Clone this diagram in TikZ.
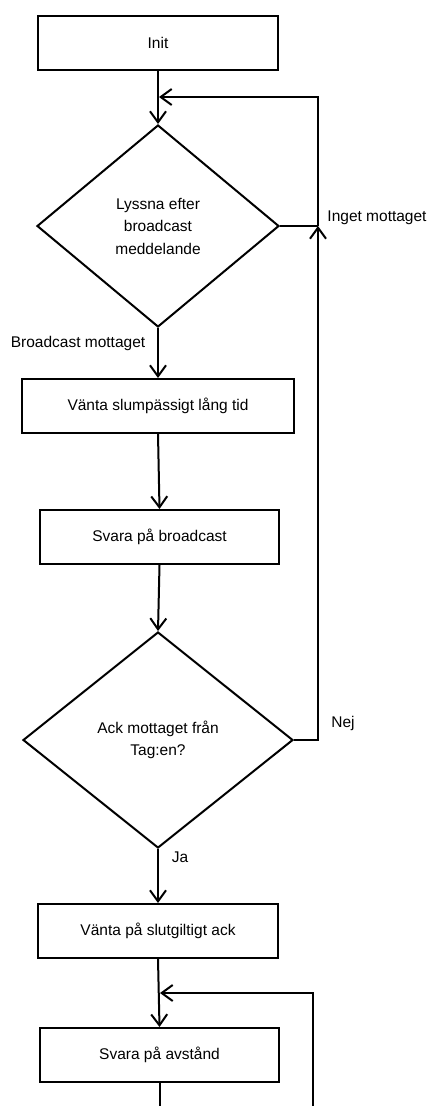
\documentclass[tikz,border=0pt]{standalone}
\usepackage{fontspec}
\setmainfont{Liberation Sans}
\usetikzlibrary{shapes.geometric,arrows.meta}
\begin{document}
\begin{tikzpicture}[x=1pt,y=-1pt,
  every node/.style={font=\fontsize{15.5}{22.5}\selectfont},
  box/.style={draw,line width=2pt,rectangle,minimum height=54pt,inner sep=0pt},
  decision/.style={draw,line width=2pt,diamond,inner sep=0pt,align=center},
  conn/.style={line width=2pt},
  arr/.style={conn,-{Straight Barb[length=11pt,width=16pt]}},
  lbl/.style={inner sep=0pt}]
\useasboundingbox (0,0) rectangle (430,1106);
\node[box,minimum width=240pt] (init) at (158,43) {Init};
\node[decision,minimum width=242pt,minimum height=202pt] (d1) at (158,226) {Lyssna efter\\broadcast\\meddelande};
\node[box,minimum width=272pt] (b2) at (158,406) {Vänta slumpässigt lång tid};
\node[box,minimum width=239pt] (b3) at (159.5,537) {Svara på broadcast};
\node[decision,minimum width=270pt,minimum height=216pt] (d2) at (158,740) {Ack mottaget från\\Tag:en?};
\node[box,minimum width=240pt] (b4) at (158,931) {Vänta på slutgiltigt ack};
\node[box,minimum width=239pt] (b5) at (159.5,1055) {Svara på avstånd};
\coordinate (j1) at (159,97);
\coordinate (c1) at (318,97);
\coordinate (c2) at (318,226);
\coordinate (c3) at (318,740);
\coordinate (j2) at (160,993);
\coordinate (c4) at (313,993);
\coordinate (c5) at (313,1110);
\coordinate (bot) at (159.5,1110);
\node[lbl] (linget) at (377,218) {Inget mottaget};
\node[lbl] (lbc) at (78,343) {Broadcast mottaget};
\node[lbl] (lnej) at (343,723) {Nej};
\node[lbl] (lja) at (180,857) {Ja};
\draw[arr] (init.south) -- (d1.north);
\draw[conn] (d1.east) -- (c2);
\draw[arr] (c2) -- (c1) -- (j1);
\draw[arr] (d2.east) -- (c3) -- (c2);
\draw[arr] (d1.south) -- (b2.north);
\draw[arr] (b2.south) -- (b3.north);
\draw[arr] (b3.south) -- (d2.north);
\draw[arr] (d2.south) -- (b4.north);
\draw[arr] (b4.south) -- (b5.north);
\draw[arr] (c5) -- (c4) -- (j2);
\draw[conn] (b5.south) -- (bot);
\end{tikzpicture}
\end{document}
